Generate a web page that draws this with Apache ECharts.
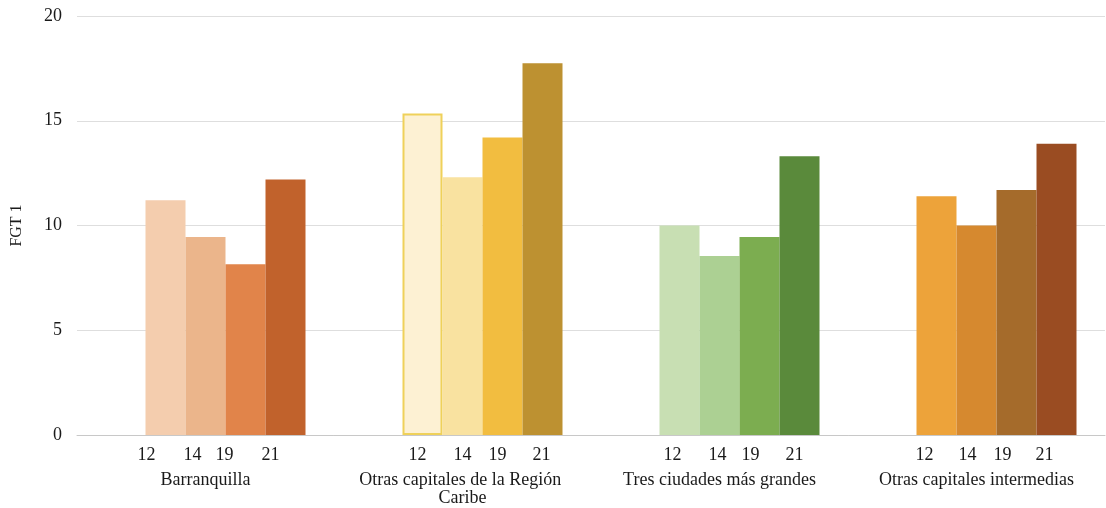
<!DOCTYPE html>
<html>
<head>
<meta charset="utf-8">
<script src="https://cdn.jsdelivr.net/npm/echarts@6/dist/echarts.min.js"></script>
<style>
  html, body { margin: 0; padding: 0; background: #ffffff; }
  #chart { width: 1106px; height: 508px; }
</style>
</head>
<body>
<div id="chart"></div>
<script>
// Groups along the horizontal axis
const categories = [
  'Barranquilla',
  'Otras capitales de la Región Caribe',
  'Tres ciudades más grandes',
  'Otras capitales intermedias'
];

// Years shown under each bar
const years = ['12', '14', '19', '21'];

// FGT 1 values per year, one entry per group
const fgt2012 = [11.2, 15.35, 10.0, 11.4];
const fgt2014 = [9.45, 12.3, 8.55, 10.0];
const fgt2019 = [8.15, 14.2, 9.45, 11.7];
const fgt2021 = [12.2, 17.75, 13.3, 13.9];

const yTicks = { min: 0, max: 20, interval: 5 };

// Fill colour of each bar: one palette per group, light to dark across the years
const palette = [
  ['#f4cdae', '#ebb58b', '#e1844a', '#c1622c'],
  ['#fdf1d3', '#f9e2a0', '#f2bd40', '#bd9131'],
  ['#c8dfb3', '#acd093', '#7cad50', '#5a8a3b'],
  ['#eda33a', '#d6892f', '#a56b2b', '#9a4c22']
];

// Horizontal nudge of each year label relative to its bar
const yearLabelShift = [
  [-19, -13, -21, -15],
  [-5, 0, -5, -1],
  [-7, -2, -9, -5],
  [-12, -9, -14, -12]
];

const serif = '"Liberation Serif", "Times New Roman", serif';
const seriesValues = [fgt2012, fgt2014, fgt2019, fgt2021];

const series = [
  // empty slot that keeps each cluster sitting right of its category centre
  {
    name: 'spacer',
    type: 'bar',
    barWidth: 40,
    barGap: 0,
    data: categories.map(() => '-'),
    silent: true
  }
];

seriesValues.forEach((vals, s) => {
  series.push({
    name: years[s],
    type: 'bar',
    barWidth: 40,
    barGap: 0,
    data: vals.map((v, g) => {
      const item = {
        value: v,
        itemStyle: { color: palette[g][s] },
        label: { offset: [yearLabelShift[g][s], 0] }
      };
      if (g === 1 && s === 0) {
        item.itemStyle.borderColor = '#efd15a';
        item.itemStyle.borderWidth = 2;
      }
      return item;
    }),
    label: {
      show: true,
      position: 'bottom',
      distance: 11,
      formatter: years[s],
      fontFamily: serif,
      fontSize: 18,
      color: '#1a1a1a'
    }
  });
});

const chart = echarts.init(document.getElementById('chart'), null, { renderer: 'canvas' });

chart.setOption({
  animation: false,
  backgroundColor: '#ffffff',
  grid: { left: 77, right: 1, top: 16, bottom: 73, containLabel: false },
  xAxis: {
    type: 'category',
    data: categories,
    axisTick: { show: false },
    axisLine: { lineStyle: { color: '#c8c8c8', width: 1 } },
    axisLabel: {
      margin: 36,
      fontFamily: serif,
      fontSize: 18,
      lineHeight: 18,
      color: '#1a1a1a',
      width: 222,
      overflow: 'break',
      interval: 0
    }
  },
  yAxis: {
    type: 'value',
    min: yTicks.min,
    max: yTicks.max,
    interval: yTicks.interval,
    name: 'FGT 1',
    nameLocation: 'middle',
    nameGap: 52,
    nameTextStyle: { fontFamily: serif, fontSize: 16, color: '#1a1a1a' },
    axisLine: { show: false },
    axisTick: { show: false },
    axisLabel: { margin: 15, fontFamily: serif, fontSize: 18, color: '#1a1a1a' },
    splitLine: { lineStyle: { color: '#dedede', width: 1 } }
  },
  series: series
});
</script>
</body>
</html>
